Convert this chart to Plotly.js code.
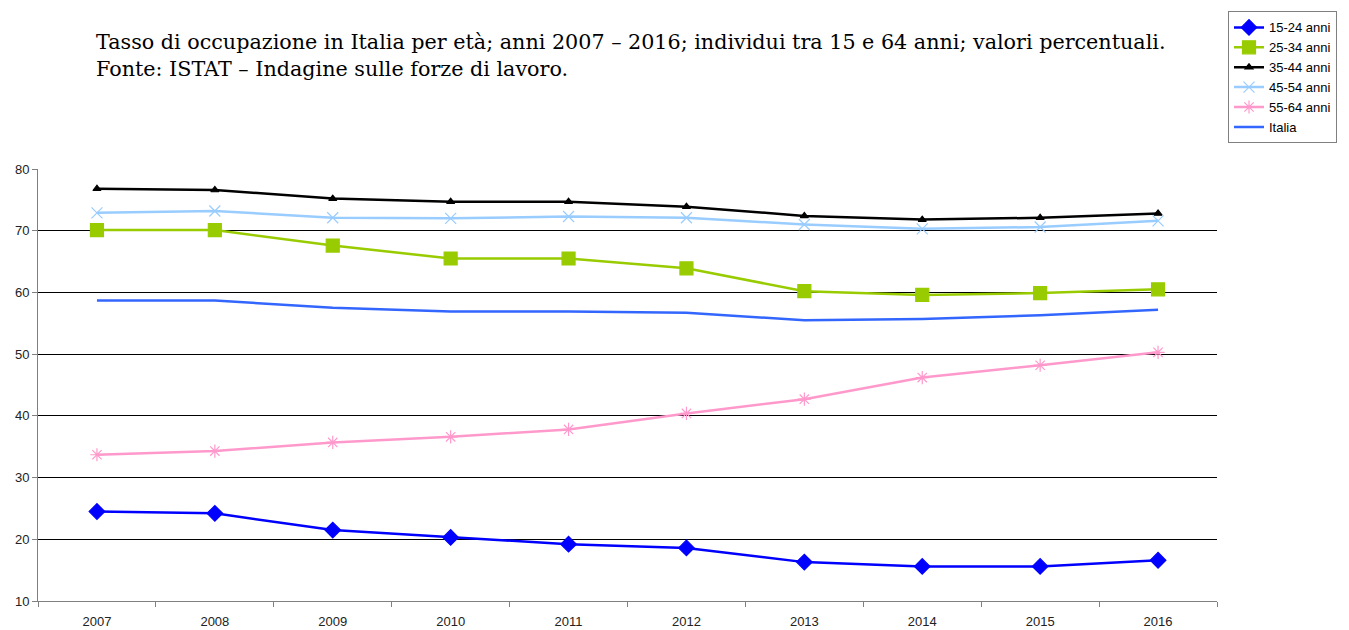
<!DOCTYPE html>
<html>
<head>
<meta charset="utf-8">
<script src="https://cdn.plot.ly/plotly-3.0.1.min.js"></script>
<style>html,body{margin:0;padding:0;background:#fff;}#chart{width:1349px;height:630px;}</style>
</head>
<body>
<div id="chart"></div>
<script>
const years = ["2007","2008","2009","2010","2011","2012","2013","2014","2015","2016"];
const seriesNames = ["15-24 anni","25-34 anni","35-44 anni","45-54 anni","55-64 anni","Italia"];
const v15_24 = [24.5, 24.2, 21.5, 20.3, 19.2, 18.6, 16.3, 15.6, 15.6, 16.6];
const v25_34 = [70.1, 70.1, 67.6, 65.5, 65.5, 63.9, 60.2, 59.6, 59.9, 60.5];
const v35_44 = [76.8, 76.6, 75.2, 74.7, 74.7, 73.9, 72.4, 71.8, 72.1, 72.8];
const v45_54 = [72.9, 73.2, 72.1, 72.0, 72.3, 72.1, 71.0, 70.3, 70.6, 71.6];
const v55_64 = [33.7, 34.3, 35.7, 36.6, 37.8, 40.4, 42.7, 46.2, 48.2, 50.3];
const vItalia = [58.7, 58.7, 57.5, 56.9, 56.9, 56.7, 55.5, 55.7, 56.3, 57.2];
const titleLines = ["Tasso di occupazione in Italia per età; anni 2007 – 2016; individui tra 15 e 64 anni; valori percentuali.","Fonte: ISTAT – Indagine sulle forze di lavoro."];

const styles = [
  {color:"#0000FF", symbol:"diamond", size:12, mcolor:"#0000FF"},
  {color:"#99CC00", symbol:"square", size:13, mcolor:"#99CC00"},
  {color:"#000000", symbol:"triangle-up", size:7, mcolor:"#000000"},
  {color:"#99CCFF", symbol:"x-thin-open", size:11, mcolor:"#99CCFF"},
  {color:"#FF99CC", symbol:"asterisk-open", size:11, mcolor:"#FF99CC"},
  {color:"#3366FF", symbol:null}
];
const vals = [v15_24, v25_34, v35_44, v45_54, v55_64, vItalia];

const traces = vals.map((v,i)=>{
  const s = styles[i];
  const t = {
    x: years, y: v, name: seriesNames[i], type:"scatter",
    mode: s.symbol ? "lines+markers" : "lines",
    line:{color:s.color, width:2.5}
  };
  if (s.symbol) t.marker = {symbol:s.symbol, size:s.size, color:s.mcolor, line:{color:s.mcolor, width:1.2}};
  return t;
});

const layout = {
  width:1349, height:630,
  paper_bgcolor:"#ffffff", plot_bgcolor:"#ffffff",
  margin:{l:38, r:132, t:165, b:29},
  font:{family:"Arial, Liberation Sans, sans-serif", size:13, color:"#222"},
  title:{
    text: titleLines.join("<br>"),
    font:{family:"DejaVu Serif, serif", size:20.7, color:"#000"},
    xref:"container", yref:"container",
    x:96/1349, xanchor:"left",
    y:1-49/630, yanchor:"top",
    align:"left"
  },
  xaxis:{
    type:"category", range:[-0.5,9.5],
    showgrid:false, showline:true, linecolor:"#808080", linewidth:1,
    ticks:"outside", tickson:"boundaries", ticklen:5, tickcolor:"#808080",
    ticklabelstandoff:8,
    tickfont:{size:13, color:"#222"}, zeroline:false, fixedrange:true
  },
  yaxis:{
    range:[10,80], dtick:10, tick0:0,
    showgrid:true, gridcolor:"#000000", gridwidth:1,
    showline:true, linecolor:"#808080", linewidth:1,
    ticks:"outside", ticklen:5, tickcolor:"#808080",
    tickfont:{size:13, color:"#222"}, zeroline:false
  },
  showlegend:true,
  legend:{
    x:(1228-38)/1179, xanchor:"left",
    y:(601-6)/436, yanchor:"top",
    bordercolor:"#808080", borderwidth:1, bgcolor:"#fff",
    font:{size:13, color:"#000"}, tracegroupgap:0, itemwidth:30
  }
};

Plotly.newPlot("chart", traces, layout, {staticPlot:true, displayModeBar:false});
</script>
</body>
</html>
